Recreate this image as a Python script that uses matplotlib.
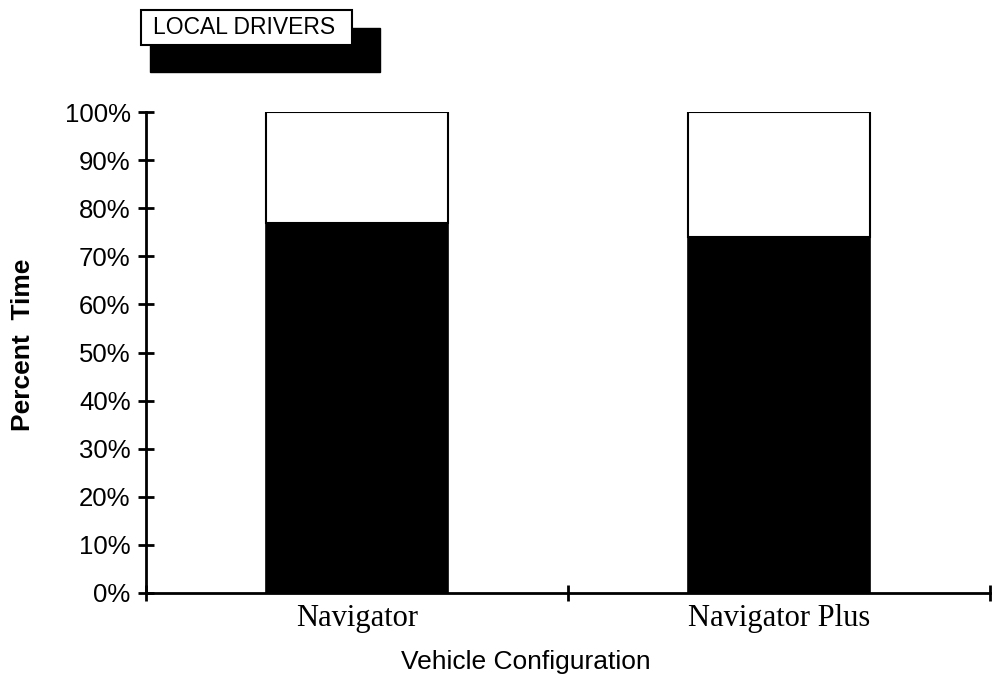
import matplotlib
matplotlib.use("Agg")
import matplotlib.pyplot as plt
from matplotlib.patches import Rectangle

categories = ["Navigator", "Navigator Plus"]
black_share = [76.9, 74.0]   # percent time (black segment)
white_share = [100 - v for v in black_share]
ytick_vals = list(range(0, 101, 10))
ytick_labels = [f"{v}%" for v in ytick_vals]
title = "LOCAL DRIVERS"

W, H = 993, 683
fig = plt.figure(figsize=(W / 100, H / 100), dpi=100)
ax = fig.add_axes([146 / W, 1 - 593 / H, (990 - 146) / W, (593 - 112) / H])

pos = [0.5, 1.5]
ax.bar(pos, black_share, width=0.43, color="black", edgecolor="black", linewidth=1.2)
ax.bar(pos, white_share, bottom=black_share, width=0.43, color="white",
       edgecolor="black", linewidth=1.5)

ax.set_xlim(0, 2)
ax.set_ylim(0, 100)
for s in ["top", "right"]:
    ax.spines[s].set_visible(False)
for s in ["left", "bottom"]:
    ax.spines[s].set_linewidth(2)

ax.set_yticks(ytick_vals)
ax.set_yticklabels(ytick_labels, fontfamily="Liberation Sans", fontsize=18.5)
ax.tick_params(axis="y", direction="inout", length=12, width=2, pad=5)

ax.set_xticks([0, 1, 2])
ax.set_xticklabels(["", "", ""])
ax.tick_params(axis="x", direction="inout", length=12, width=2)
for p, c in zip(pos, categories):
    ax.text(p, -2.3, c, ha="center", va="top", fontfamily="Liberation Serif",
            fontsize=22, transform=ax.transData)

ax.set_xlabel("Vehicle Configuration", fontfamily="Liberation Sans", fontsize=19,
              va="top", ha="center")
ax.xaxis.set_label_coords((526 - 146) / 844, (593 - 650) / 481)
ax.set_ylabel("Percent  Time", fontfamily="Liberation Sans", fontsize=19,
              fontweight="bold", va="center", ha="center")
ax.yaxis.set_label_coords((23 - 146) / 844, (593 - 345) / 481)

# Title box with shadow (figure coordinates)
fig.patches.append(Rectangle((150 / W, 1 - 72 / H), (380 - 150) / W, (72 - 28) / H,
                             transform=fig.transFigure, facecolor="black",
                             edgecolor="black", zorder=1))
fig.patches.append(Rectangle((141 / W, 1 - 45 / H), (352 - 141) / W, (45 - 10) / H,
                             transform=fig.transFigure, facecolor="white",
                             edgecolor="black", linewidth=1.5, zorder=2))
fig.text(244 / W, 1 - 28 / H, title, ha="center", va="center",
         fontfamily="Liberation Sans", fontsize=16.5, zorder=3)

fig.savefig("out.png", dpi=100)
